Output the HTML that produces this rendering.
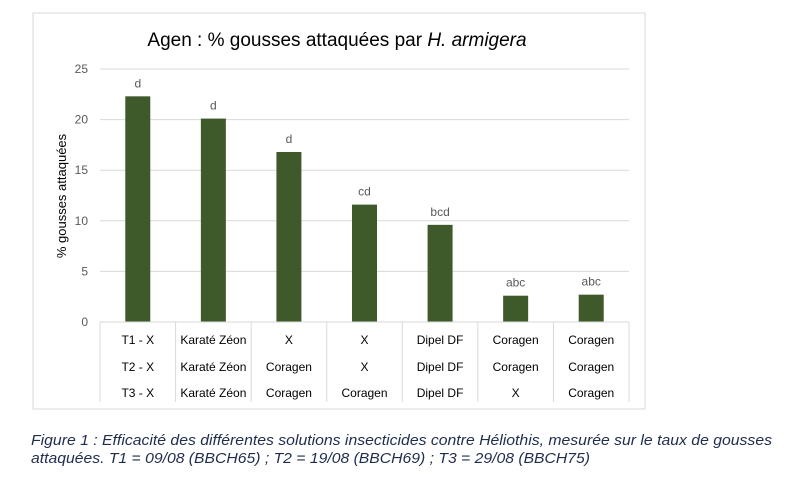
<!DOCTYPE html>
<html><head><meta charset="utf-8"><style>
body{margin:0;background:#fff;}
svg{display:block;font-family:"Liberation Sans",sans-serif;}
</style></head><body>
<svg width="800" height="478" viewBox="0 0 800 478">
<rect x="33" y="13" width="612" height="396" fill="#fff" stroke="#d9d9d9" stroke-width="1"/>
<text x="337" y="46" text-anchor="middle" font-size="19" fill="#000">Agen :  % gousses attaquées par <tspan font-style="italic">H. armigera</tspan></text>
<g id="grid"></g>
<g id="yticks"></g>
<text transform="translate(66,196) rotate(-90)" text-anchor="middle" font-size="13" fill="#000">% gousses attaquées</text>
<g id="bars"></g>
<g id="table"></g>
<text x="31" y="445" font-size="14.5" font-style="italic" fill="#1f2d4d" textLength="741" lengthAdjust="spacingAndGlyphs">Figure 1 : Efficacité des différentes solutions insecticides contre Héliothis, mesurée sur le taux de gousses</text>
<text x="31" y="463" font-size="14.5" font-style="italic" fill="#1f2d4d" textLength="559" lengthAdjust="spacingAndGlyphs">attaquées. T1 = 09/08 (BBCH65) ; T2 = 19/08 (BBCH69) ; T3 = 29/08 (BBCH75)</text>
</svg>
<script>
const values = [22.3, 20.1, 16.8, 11.6, 9.6, 2.6, 2.7];
const letters = ["d", "d", "d", "cd", "bcd", "abc", "abc"];
const t1 = ["T1 - X", "Karaté Zéon", "X", "X", "Dipel DF", "Coragen", "Coragen"];
const t2 = ["T2 - X", "Karaté Zéon", "Coragen", "X", "Dipel DF", "Coragen", "Coragen"];
const t3 = ["T3 - X", "Karaté Zéon", "Coragen", "Coragen", "Dipel DF", "X", "Coragen"];
const yTicks = [0, 5, 10, 15, 20, 25];

const NS = "http://www.w3.org/2000/svg";
const X0 = 100, X1 = 629, Y0 = 322, Ytop = 69, YMAX = 25;
const n = values.length, cw = (X1 - X0) / n, bw = 25;
const yS = v => Y0 - (v / YMAX) * (Y0 - Ytop);
const xC = i => X0 + cw * (i + 0.5);
function mk(tag, attrs, parent, txt) {
  const e = document.createElementNS(NS, tag);
  for (const k in attrs) e.setAttribute(k, attrs[k]);
  if (txt !== undefined) e.textContent = txt;
  parent.appendChild(e);
  return e;
}
const grid = document.getElementById('grid'), yt = document.getElementById('yticks');
yTicks.forEach(t => {
  if (t > 0) {
    const l = mk('line', {x1: X0, x2: X1, y1: yS(t), y2: yS(t), stroke: '#d9d9d9', 'stroke-width': 1}, grid);
    
    
  }
  const tx = mk('text', {x: 88, y: yS(t) + 4, 'text-anchor': 'end', 'font-size': 12, fill: '#595959'}, yt, String(t));
  
  
});
const bars = document.getElementById('bars');
values.forEach((v, i) => {
  const r = mk('rect', {x: xC(i) - bw / 2, y: yS(v), width: bw, height: Y0 - yS(v), fill: '#3f5a2a'}, bars);
  
  
  const lb = mk('text', {x: xC(i), y: yS(v) - 9, 'text-anchor': 'middle', 'font-size': 12, fill: '#595959'}, bars, letters[i]);
  
  
});
const tb = document.getElementById('table');
const ax = mk('line', {x1: X0, x2: X1, y1: Y0, y2: Y0, stroke: '#d9d9d9', 'stroke-width': 1}, tb);


for (let i = 0; i <= n; i++) {
  const l = mk('line', {x1: X0 + cw * i, x2: X0 + cw * i, y1: Y0, y2: 402, stroke: '#d9d9d9', 'stroke-width': 1}, tb);
  
  
}
[[t1, 344], [t2, 371], [t3, 397]].forEach(([row, y], ri) => {
  row.forEach((s, i) => {
    const t = mk('text', {x: xC(i), y: y, 'text-anchor': 'middle', 'font-size': 12, fill: '#000'}, tb, s);
    
    
  });
});
</script>
</body></html>
